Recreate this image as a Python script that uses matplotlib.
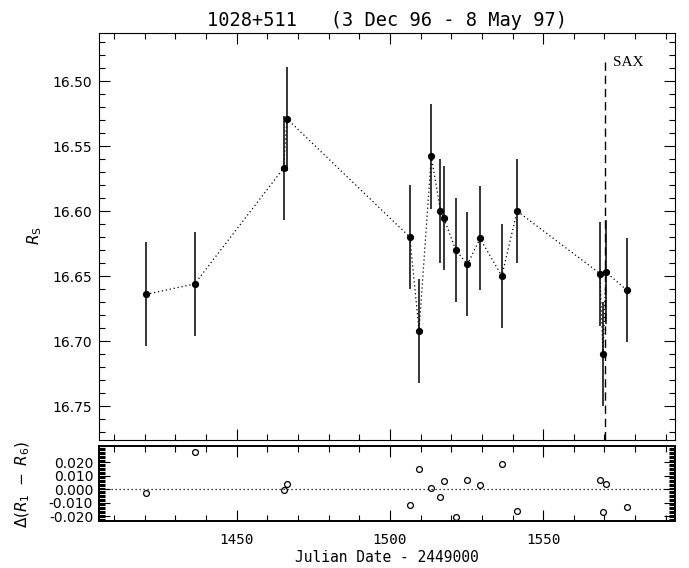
import numpy as np
import matplotlib
matplotlib.use("Agg")
import matplotlib.pyplot as plt
from matplotlib.ticker import MultipleLocator, FormatStrFormatter

# ==========================================================
# light curve of 1028+511, R_S magnitudes (JD - 2449000)
jd = [1420.5, 1436.3, 1465.3, 1466.4, 1506.5, 1509.5, 1513.5, 1516.5, 1517.5,
      1521.5, 1525.3, 1529.4, 1536.5, 1541.5, 1568.5, 1569.5, 1570.5, 1577.4]
rmag = [16.664, 16.656, 16.567, 16.529, 16.620, 16.692, 16.558, 16.600, 16.605,
        16.630, 16.641, 16.621, 16.650, 16.600, 16.648, 16.710, 16.647, 16.661]
rerr = [0.040, 0.040, 0.040, 0.040, 0.040, 0.040, 0.040, 0.040, 0.040,
        0.040, 0.040, 0.040, 0.040, 0.040, 0.040, 0.040, 0.040, 0.040]

# comparison star difference R1 - R6
dcomp = [-0.0025, 0.0275, -0.0005, 0.0037, -0.0120, 0.0150, 0.0005, -0.0058, 0.0058,
         -0.0205, 0.0068, 0.0028, 0.0185, -0.0160, 0.0068, -0.0172, 0.0038, -0.0130]

sax_jd = 1570.3
title = "1028+511   (3 Dec 96 - 8 May 97)"

W, H = 689, 568
fig = plt.figure(figsize=(W / 100, H / 100), dpi=100)

# pixel boxes -> figure fractions
x0, x1 = 98.7, 675.0
ax1 = fig.add_axes([x0 / W, 1 - 439.5 / H, (x1 - x0) / W, (439.5 - 33.3) / H])
ax2 = fig.add_axes([x0 / W, 1 - 520.7 / H, (x1 - x0) / W, (520.7 - 445.7) / H])

dots = (0, (1, 2.2))

# ---- top panel
ax1.plot(jd, rmag, color="k", lw=0.9, linestyle=dots)
ax1.errorbar(jd, rmag, yerr=rerr, fmt="o", color="k", ms=4.2, elinewidth=1.1,
             capsize=0, zorder=3)
ax1.plot([sax_jd, sax_jd], [16.4855, 16.7756], color="k", lw=1.0,
         linestyle=(0, (6, 3.5)))
ax1.text(1572.8, 16.4858, "SAX", ha="left", va="center",
         fontsize=11, family="Liberation Serif")

ax1.set_xlim(1405, 1593)
ax1.set_ylim(16.7756, 16.4633)
ax1.xaxis.set_major_locator(MultipleLocator(50))
ax1.xaxis.set_minor_locator(MultipleLocator(10))
ax1.yaxis.set_major_locator(MultipleLocator(0.05))
ax1.yaxis.set_minor_locator(MultipleLocator(0.01))
ax1.yaxis.set_major_formatter(FormatStrFormatter("%.2f"))
ax1.tick_params(which="both", direction="in", top=True, right=True, width=0.8)
ax1.tick_params(which="major", length=8)
ax1.tick_params(which="minor", length=4.5)
ax1.tick_params(axis="x", labelbottom=False)
ax1.tick_params(axis="y", labelsize=10, pad=5)

# ---- bottom panel
ax2.axhline(0.0, color="k", lw=0.9, linestyle=dots)
ax2.plot(jd, dcomp, "o", mfc="none", mec="k", ms=4.2, mew=0.9)
ax2.set_xlim(1405, 1593)
ax2.set_ylim(-0.0235, 0.0324)
ax2.xaxis.set_major_locator(MultipleLocator(50))
ax2.xaxis.set_minor_locator(MultipleLocator(10))
ax2.yaxis.set_major_locator(MultipleLocator(0.01))
ax2.yaxis.set_minor_locator(MultipleLocator(0.001))
ax2.yaxis.set_major_formatter(FormatStrFormatter("%.3f"))
ax2.set_yticks([-0.02, -0.01, 0.0, 0.01, 0.02])
ax2.tick_params(which="both", direction="in", top=True, right=True, width=0.8)
ax2.tick_params(which="major", length=8)
ax2.tick_params(which="minor", length=4.5)
ax2.tick_params(axis="y", labelsize=10, pad=4)
ax2.tick_params(axis="x", labelsize=10.3, pad=9)
for lab in ax2.get_xticklabels():
    lab.set_family("DejaVu Sans Mono")
for sp in ax2.spines.values():
    sp.set_linewidth(1.4)

# ---- labels
fig.text(386.8 / W, 1 - 20 / H, title, ha="center", va="center",
         fontsize=13.4, family="DejaVu Sans Mono")
fig.text(386.8 / W, 1 - 557 / H, "Julian Date - 2449000", ha="center", va="center",
         fontsize=10.5, family="DejaVu Sans Mono")
fig.text(35 / W, 1 - 236 / H, r"$R_{\rm S}$", rotation=90, ha="center",
         va="center", fontsize=11)
fig.text(22.5 / W, 1 - 484 / H, r"$\Delta(R_1\ -\ R_6)$", rotation=90,
         ha="center", va="center", fontsize=11)

fig.savefig("out.png", dpi=100)
